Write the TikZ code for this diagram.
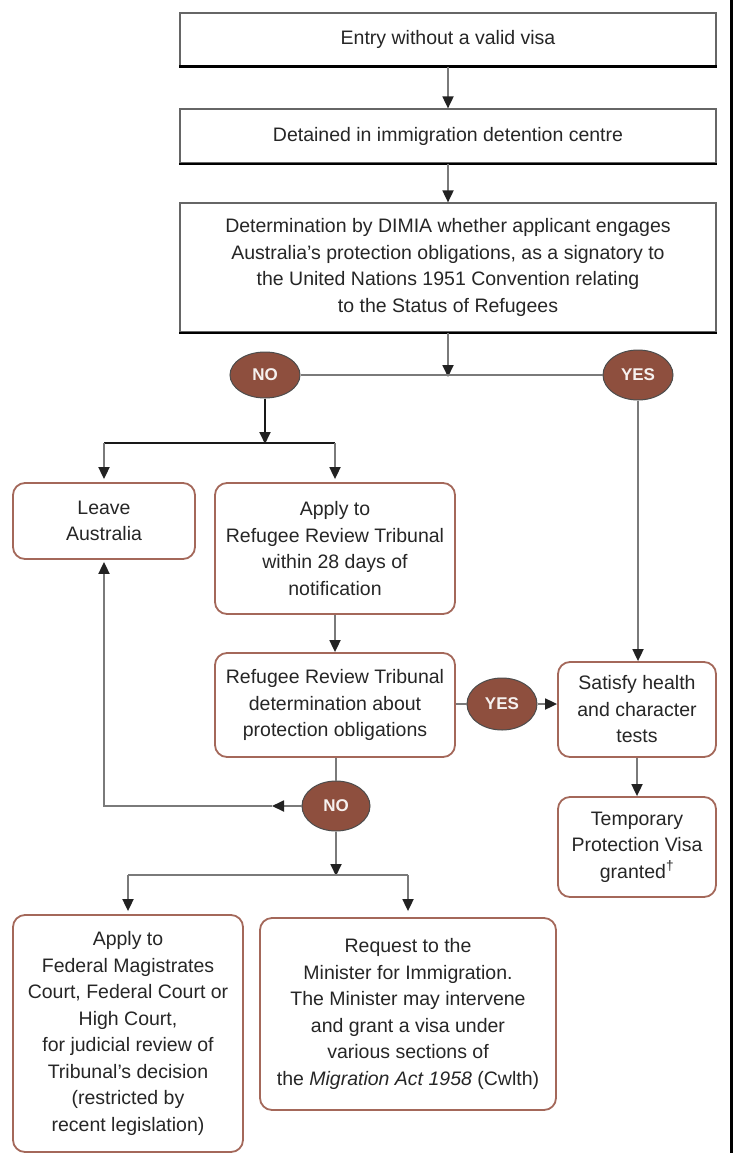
\documentclass[tikz,border=0pt]{standalone}
\usepackage{fontspec}
\setmainfont{Liberation Sans}
\usetikzlibrary{arrows.meta,shapes.geometric}
\definecolor{brn}{HTML}{A4685A}
\definecolor{ovalfill}{HTML}{8E4F3E}
\definecolor{lin}{HTML}{7A7A7A}
\definecolor{tip}{HTML}{222222}
\tikzset{
  txt/.style={font=\fontsize{19.5}{26.5}\selectfont, align=center, text=black!85},
  sqbox/.style={txt, draw=black!60, line width=1.2pt, minimum width=536pt, inner sep=0pt},
  rbox/.style={txt, draw=brn, line width=1.8pt, rounded corners=12pt, inner sep=0pt},
  oval/.style={ellipse, fill=ovalfill, draw=black!70, line width=1pt, inner sep=0pt,
    text=white!92!ovalfill, font=\fontsize{17}{17}\selectfont\bfseries},
  conn/.style={draw=lin, line width=1.8pt},
  arr/.style={conn, -{Triangle[length=12pt,width=11pt,color=tip]}},
  blk/.style={draw=black!90, line width=1.8pt},
  blkarr/.style={blk, -{Triangle[length=12pt,width=11pt,color=tip]}}
}
\begin{document}
\begin{tikzpicture}[x=1pt,y=-1pt]
\fill[white] (0,0) rectangle (734,1153);
\useasboundingbox (0,0) rectangle (734,1153);
\draw[line width=3.5pt] (731.5,0) -- (731.5,1153);

% top rectangular boxes
\node[sqbox, minimum height=53pt] (b1) at (448,39.5) {Entry without a valid visa};
\node[sqbox, minimum height=54pt] (b2) at (448,136) {Detained in immigration detention centre};
\node[sqbox, minimum height=129pt] (b3) at (448,267.5) {Determination by DIMIA whether applicant engages\\Australia's protection obligations, as a signatory to\\the United Nations 1951 Convention relating\\to the Status of Refugees};
\foreach \b in {b1,b2,b3} \draw[line width=2.2pt, black] (\b.south west) -- (\b.south east);

% decision ovals
\node[oval, minimum width=70pt, minimum height=46pt] (no1) at (265,375) {NO};
\node[oval, minimum width=70pt, minimum height=50pt] (yes1) at (638,375) {YES};
\node[oval, minimum width=70pt, minimum height=52pt] (yes2) at (502,704) {YES};
\node[oval, minimum width=68pt, minimum height=50pt] (no2) at (336,806) {NO};

% rounded boxes
\node[rbox, minimum width=182pt, minimum height=76pt] (leave) at (104,521) {Leave\\Australia};
\node[rbox, minimum width=240pt, minimum height=131pt] (apprrt) at (335,548.5) {Apply to\\Refugee Review Tribunal\\within 28 days of\\notification};
\node[rbox, minimum width=240pt, minimum height=104pt] (rrt) at (335,705) {Refugee Review Tribunal\\determination about\\protection obligations};
\node[rbox, minimum width=158pt, minimum height=95pt] (sat) at (637,709.5) {Satisfy health\\and character\\tests};
\node[rbox, minimum width=158pt, minimum height=100pt] (tpv) at (637,847) {Temporary\\Protection Visa\\granted\textsuperscript{†}};
\node[rbox, minimum width=230pt, minimum height=237pt] (fmc) at (128,1033.5) {Apply to\\Federal Magistrates\\Court, Federal Court or\\High Court,\\for judicial review of\\Tribunal's decision\\(restricted by\\recent legislation)};
\node[rbox, minimum width=296pt, minimum height=192pt] (req) at (408,1014) {Request to the\\Minister for Immigration.\\The Minister may intervene\\and grant a visa under\\various sections of\\the \textit{Migration Act 1958} (Cwlth)};

% connectors
\coordinate (j0) at (448,375);
\coordinate (j1) at (265,443);
\coordinate (m2) at (272,806);
\coordinate (j2) at (336,875);

\draw[arr] (b1) -- (b2);
\draw[arr] (b2) -- (b3);
\draw[arr] (b3.south) -- ([yshift=-2pt]j0);
\draw[conn] (no1.east) -- (yes1.west);
\draw[blkarr] (no1.south) -- ([yshift=-1pt]j1);
\draw[blk] (leave.north |- j1) -- (apprrt.north |- j1);
\draw[arr] (leave.north |- j1) -- ([yshift=3pt]leave.north);
\draw[arr] (apprrt.north |- j1) -- ([yshift=3pt]apprrt.north);
\draw[arr] (apprrt) -- (rrt);
\draw[conn] (rrt.east |- yes2) -- (yes2.west);
\draw[arr] (yes2.east) -- (yes2.east -| sat.west);
\draw[arr] (yes1.south) -- (yes1.south |- sat.north);
\draw[arr] (sat) -- (tpv);
\draw[conn] (no2.north |- rrt.south) -- (no2.north);
\draw[arr] (no2.west) -- (m2);
\draw[arr] (m2) -| ([yshift=-2pt]leave.south);
\draw[arr] (no2.south) -- ([yshift=-1pt]j2);
\draw[conn] (fmc.north |- j2) -- (req.north |- j2);
\draw[arr] (fmc.north |- j2) -- ([yshift=3pt]fmc.north);
\draw[arr] (req.north |- j2) -- ([yshift=6pt]req.north);
\end{tikzpicture}
\end{document}
